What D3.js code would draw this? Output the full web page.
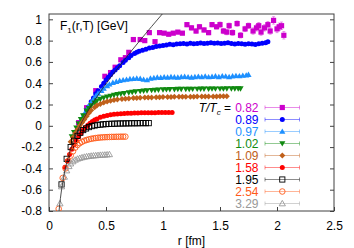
<!DOCTYPE html>
<html><head><meta charset="utf-8">
<script src="https://cdn.jsdelivr.net/npm/d3@7"></script>
<style>body{margin:0;background:#fff}svg{display:block}text{font-family:"Liberation Sans",Arial,sans-serif}</style>
</head><body>
<svg id="c" width="354" height="248"></svg>
<script>
// ---------- data ----------
const xTicks = [0, 0.5, 1, 1.5, 2, 2.5];
const yTicks = [1, 0.8, 0.6, 0.4, 0.2, 0, -0.2, -0.4, -0.6, -0.8];
const xTickLabels = ["0", "0.5", "1", "1.5", "2", "2.5"];
const yTickLabels = ["1", "0.8", "0.6", "0.4", "0.2", "0", "-0.2", "-0.4", "-0.6", "-0.8"];
const legendLabels = ["0.82", "0.89", "0.97", "1.02", "1.09", "1.58", "1.95", "2.54", "3.29"];

// T=0 potential curve
const lineR = [0.085, 0.1, 0.12, 0.15, 0.2, 0.27, 0.35, 0.45, 0.6, 0.8, 1.0, 1.05];
const lineF = [-0.834, -0.683, -0.532, -0.371, -0.185, -0.004, 0.154, 0.319, 0.537, 0.804, 1.058, 1.12];

const r082 = [0.26,0.33,0.41,0.49,0.54,0.58,0.63,0.67,0.70,0.74,0.80,0.84,0.88,0.93,0.97,1.01,1.05,1.09,1.13,1.17,1.21,1.25,1.29,1.32,1.36,1.40,1.43,1.47,1.50,1.53,1.56,1.58,1.61,1.65,1.68,1.72,1.75,1.79,1.82,1.84,1.86,1.89,1.92,1.94,1.97,2.00,2.02,2.04,2.06];
const f082 = [0.03,0.17,0.33,0.465,0.50,0.55,0.62,0.64,0.69,0.81,0.81,0.80,0.875,0.79,0.875,0.87,0.86,0.87,0.88,0.87,0.95,0.92,0.89,0.93,0.90,0.875,0.95,0.93,0.95,0.89,0.88,0.94,0.875,0.96,0.85,0.91,0.94,0.89,0.92,0.94,0.88,0.92,0.95,0.89,0.99,0.91,0.93,0.94,0.85];
const e082 = [0.01,0.01,0.01,0.01,0.01,0.01,0.01,0.01,0.01,0.012,0.012,0.012,0.015,0.015,0.015,0.015,0.015,0.015,0.015,0.015,0.02,0.02,0.02,0.02,0.02,0.02,0.02,0.02,0.025,0.025,0.025,0.025,0.025,0.025,0.025,0.025,0.025,0.03,0.03,0.03,0.03,0.03,0.03,0.03,0.035,0.035,0.035,0.035,0.035];

const r089 = [0.25,0.27,0.29,0.31,0.33,0.35,0.37,0.39,0.41,0.43,0.46,0.48,0.50,0.52,0.54,0.56,0.58,0.60,0.62,0.65,0.67,0.70,0.72,0.75,0.77,0.79,0.82,0.85,0.88,0.91,0.94,0.97,1.00,1.03,1.06,1.09,1.12,1.15,1.18,1.21,1.24,1.27,1.30,1.33,1.36,1.39,1.42,1.45,1.48,1.51,1.54,1.57,1.60,1.63,1.66,1.69,1.72,1.75,1.78,1.81,1.84,1.87,1.90,1.92];
const f089 = [-0.02,0.02,0.06,0.10,0.145,0.18,0.225,0.26,0.30,0.33,0.37,0.40,0.43,0.455,0.48,0.505,0.525,0.545,0.565,0.595,0.615,0.64,0.66,0.68,0.69,0.70,0.71,0.72,0.73,0.735,0.745,0.75,0.755,0.76,0.765,0.762,0.768,0.77,0.772,0.768,0.775,0.77,0.774,0.778,0.772,0.776,0.78,0.775,0.778,0.772,0.776,0.779,0.772,0.768,0.774,0.77,0.765,0.77,0.768,0.764,0.77,0.775,0.78,0.79];

const r097 = [0.22,0.24,0.26,0.28,0.30,0.32,0.345,0.37,0.39,0.41,0.43,0.46,0.48,0.51,0.53,0.56,0.59,0.62,0.65,0.68,0.71,0.74,0.77,0.80,0.83,0.86,0.89,0.92,0.95,0.98,1.01,1.04,1.07,1.10,1.13,1.16,1.19,1.22,1.25,1.28,1.31,1.34,1.37,1.40,1.43,1.46,1.49,1.52,1.55,1.58,1.61,1.64,1.67,1.70,1.73,1.75];
const f097 = [-0.08,-0.04,0.0,0.04,0.09,0.13,0.18,0.22,0.25,0.28,0.305,0.33,0.35,0.375,0.39,0.405,0.415,0.425,0.43,0.435,0.44,0.442,0.445,0.443,0.435,0.43,0.445,0.45,0.455,0.452,0.458,0.455,0.46,0.457,0.455,0.46,0.462,0.458,0.455,0.46,0.463,0.46,0.465,0.458,0.462,0.466,0.46,0.468,0.465,0.46,0.467,0.47,0.468,0.472,0.475,0.48];

const r102 = [0.20,0.22,0.24,0.26,0.28,0.30,0.33,0.35,0.37,0.40,0.42,0.45,0.48,0.51,0.54,0.57,0.60,0.63,0.66,0.70,0.73,0.76,0.80,0.83,0.86,0.90,0.93,0.96,1.00,1.03,1.06,1.10,1.13,1.16,1.20,1.23,1.26,1.30,1.33,1.36,1.40,1.43,1.46,1.50,1.53,1.56,1.60,1.63,1.66,1.68];
const f102 = [-0.10,-0.06,-0.02,0.02,0.06,0.095,0.14,0.165,0.19,0.215,0.235,0.25,0.262,0.272,0.28,0.288,0.295,0.30,0.305,0.312,0.317,0.321,0.325,0.328,0.331,0.334,0.336,0.338,0.34,0.341,0.342,0.343,0.344,0.344,0.345,0.345,0.346,0.346,0.347,0.347,0.347,0.348,0.348,0.348,0.348,0.349,0.349,0.349,0.35,0.35];

const r109 = [0.19,0.21,0.23,0.25,0.27,0.29,0.31,0.33,0.35,0.37,0.40,0.42,0.45,0.48,0.51,0.54,0.57,0.60,0.64,0.67,0.70,0.74,0.77,0.80,0.84,0.87,0.90,0.94,0.97,1.00,1.04,1.07,1.10,1.14,1.17,1.20,1.24,1.27,1.30,1.34,1.37,1.40,1.44,1.47,1.50,1.53,1.56];
const f109 = [-0.15,-0.11,-0.07,-0.035,0.0,0.03,0.06,0.09,0.12,0.145,0.175,0.19,0.205,0.218,0.228,0.236,0.242,0.247,0.252,0.255,0.257,0.26,0.262,0.263,0.265,0.266,0.267,0.268,0.269,0.27,0.27,0.271,0.272,0.272,0.273,0.273,0.274,0.274,0.275,0.275,0.275,0.276,0.276,0.276,0.277,0.277,0.278];

const r158 = [0.14,0.16,0.18,0.20,0.22,0.24,0.26,0.28,0.30,0.32,0.34,0.36,0.38,0.40,0.42,0.45,0.48,0.51,0.54,0.57,0.60,0.63,0.66,0.69,0.72,0.75,0.78,0.81,0.84,0.87,0.90,0.93,0.96,0.99,1.02,1.05,1.08];
const f158 = [-0.39,-0.33,-0.27,-0.22,-0.18,-0.14,-0.10,-0.07,-0.04,-0.015,0.005,0.025,0.04,0.055,0.065,0.08,0.09,0.098,0.104,0.108,0.111,0.114,0.116,0.118,0.119,0.12,0.121,0.122,0.122,0.123,0.123,0.123,0.124,0.124,0.124,0.125,0.125];

const r195 = [0.11,0.155,0.19,0.22,0.25,0.275,0.30,0.325,0.35,0.375,0.40,0.425,0.45,0.475,0.50,0.525,0.55,0.575,0.60,0.625,0.65,0.675,0.70,0.725,0.75,0.775,0.80,0.825,0.85,0.875];
const f195 = [-0.55,-0.31,-0.20,-0.14,-0.095,-0.065,-0.04,-0.025,-0.012,-0.003,0.003,0.008,0.011,0.014,0.016,0.018,0.019,0.02,0.021,0.022,0.022,0.023,0.023,0.024,0.024,0.024,0.025,0.025,0.025,0.025];

const r254 = [0.085,0.12,0.145,0.17,0.19,0.21,0.23,0.25,0.27,0.29,0.31,0.33,0.35,0.37,0.39,0.41,0.43,0.45,0.47,0.49,0.51,0.53,0.55,0.57,0.59,0.61,0.63,0.65,0.67];
const f254 = [-0.78,-0.49,-0.40,-0.33,-0.28,-0.24,-0.205,-0.18,-0.163,-0.15,-0.14,-0.133,-0.127,-0.122,-0.118,-0.115,-0.112,-0.11,-0.108,-0.107,-0.106,-0.105,-0.104,-0.104,-0.103,-0.103,-0.102,-0.102,-0.102];

const r329 = [0.096,0.11,0.135,0.155,0.175,0.19,0.21,0.23,0.25,0.27,0.29,0.31,0.33,0.35,0.37,0.39,0.41,0.43,0.45,0.47,0.49,0.51,0.53];
const f329 = [-0.73,-0.57,-0.48,-0.42,-0.38,-0.355,-0.335,-0.32,-0.31,-0.303,-0.297,-0.292,-0.288,-0.285,-0.282,-0.28,-0.278,-0.276,-0.274,-0.273,-0.272,-0.27,-0.268];

// ---------- styles ----------
const colors = ["#cc00cc", "#0000ff", "#1e90ff", "#108a10", "#c0601a", "#ff0000", "#000000", "#ff5a1a", "#999999"];
const shapes = ["square", "circle", "triUp", "triDown", "diamond", "circle", "square", "circle", "triUp"];
const filled = [true, true, true, true, true, true, false, false, false];
const seriesR = [r082, r089, r097, r102, r109, r158, r195, r254, r329];
const seriesF = [f082, f089, f097, f102, f109, f158, f195, f254, f329];

const W = 354, H = 248;
const m = {l: 49, r: 334, t: 14, b: 211};
const x = d3.scaleLinear().domain([0, 2.5]).range([m.l, m.r]);
const y = d3.scaleLinear().domain([-0.8, 1.05]).range([m.b, m.t]);
const svg = d3.select("#c");
const frameCol = "#404040";

svg.append("defs").append("clipPath").attr("id", "clip")
  .append("rect").attr("x", m.l).attr("y", m.t).attr("width", m.r - m.l).attr("height", m.b - m.t);

function marker(g, shape, cx, cy, col, fill) {
  let el;
  const s = 2.6;
  if (shape === "square") {
    el = g.append("rect").attr("x", cx - s).attr("y", cy - s).attr("width", 2 * s).attr("height", 2 * s);
  } else if (shape === "circle") {
    el = g.append("circle").attr("cx", cx).attr("cy", cy).attr("r", fill ? 2.5 : 2.8);
  } else if (shape === "triUp") {
    const a = 3.1;
    el = g.append("path").attr("d", `M${cx},${cy - a}L${cx + a},${cy + a * 0.75}L${cx - a},${cy + a * 0.75}Z`);
  } else if (shape === "triDown") {
    const a = 3.1;
    el = g.append("path").attr("d", `M${cx},${cy + a}L${cx + a},${cy - a * 0.75}L${cx - a},${cy - a * 0.75}Z`);
  } else {
    const a = 3.0;
    el = g.append("path").attr("d", `M${cx},${cy - a}L${cx + a},${cy}L${cx},${cy + a}L${cx - a},${cy}Z`);
  }
  if (fill) el.attr("fill", col).attr("stroke", "none");
  else el.attr("fill", "none").attr("stroke", col).attr("stroke-width", 0.9);
}

// axes
const gx = svg.append("g").attr("transform", `translate(0,${m.b})`)
  .call(d3.axisBottom(x).tickValues(xTicks).tickFormat((d, i) => xTickLabels[i]).tickSize(-4).tickPadding(10));
const gy = svg.append("g").attr("transform", `translate(${m.l},0)`)
  .call(d3.axisLeft(y).tickValues(yTicks).tickFormat((d, i) => yTickLabels[i]).tickSize(-4).tickPadding(7));
const gy2 = svg.append("g").attr("transform", `translate(${m.r},0)`)
  .call(d3.axisRight(y).tickValues(yTicks).tickFormat("").tickSize(-4));
[gx, gy, gy2].forEach(g => {
  g.select(".domain").remove();
  g.selectAll(".tick line").attr("stroke", frameCol);
  g.selectAll("text").attr("font-size", 12).attr("fill", "#000").attr("font-family", "Liberation Sans, Arial, sans-serif");
});
svg.append("rect").attr("x", m.l).attr("y", m.t).attr("width", m.r - m.l).attr("height", m.b - m.t)
  .attr("fill", "none").attr("stroke", frameCol).attr("stroke-width", 1);

// data
const plot = svg.append("g").attr("clip-path", "url(#clip)");
// error bars for 0.82
const eb = plot.append("g").attr("stroke", colors[0]).attr("stroke-opacity", 0.5).attr("stroke-width", 0.8);
r082.forEach((r, i) => {
  const cx = x(r), y1 = y(f082[i] + e082[i]), y2 = y(f082[i] - e082[i]);
  eb.append("line").attr("x1", cx).attr("x2", cx).attr("y1", y1).attr("y2", y2);
  eb.append("line").attr("x1", cx - 1.5).attr("x2", cx + 1.5).attr("y1", y1).attr("y2", y1);
  eb.append("line").attr("x1", cx - 1.5).attr("x2", cx + 1.5).attr("y1", y2).attr("y2", y2);
});
for (let s = 0; s < seriesR.length; s++) {
  const g = plot.append("g");
  seriesR[s].forEach((r, i) => marker(g, shapes[s], x(r), y(seriesF[s][i]), colors[s], filled[s]));
}
// T=0 curve
const lineData = lineR.map((r, i) => [r, lineF[i]]);
plot.append("path").datum(lineData)
  .attr("d", d3.line().x(d => x(d[0])).y(d => y(d[1])).curve(d3.curveMonotoneX))
  .attr("fill", "none").attr("stroke", "#222").attr("stroke-width", 0.8);

// title inside
const t = svg.append("text").attr("x", 60).attr("y", 30).attr("font-size", 12).attr("fill", "#000");
t.append("tspan").text("F");
t.append("tspan").attr("font-size", 8).attr("dy", 3).text("1");
t.append("tspan").attr("dy", -3).text("(r,T) [GeV]");

// x label
svg.append("text").attr("x", (m.l + m.r) / 2).attr("y", 245).attr("text-anchor", "middle")
  .attr("font-size", 12).attr("fill", "#000").text("r [fm]");

// legend
const lg = svg.append("g");
const lt = lg.append("text").attr("x", 231).attr("y", 111.8).attr("text-anchor", "end").attr("font-size", 12).attr("fill", "#000");
lt.append("tspan").attr("font-style", "italic").text("T/T");
lt.append("tspan").attr("font-style", "italic").attr("font-size", 8).attr("dy", 3).text("c");
lt.append("tspan").attr("dy", -3).text(" =");
legendLabels.forEach((lab, i) => {
  const cy = 107.5 + i * 12;
  lg.append("text").attr("x", 258.5).attr("y", cy + 4.3).attr("text-anchor", "end")
    .attr("font-size", 12).attr("fill", colors[i]).text(lab);
  const sg = lg.append("g").attr("stroke", colors[i]).attr("stroke-opacity", 0.5).attr("stroke-width", 0.9);
  sg.append("line").attr("x1", 265).attr("x2", 299.5).attr("y1", cy).attr("y2", cy);
  sg.append("line").attr("x1", 265).attr("x2", 265).attr("y1", cy - 2).attr("y2", cy + 2);
  sg.append("line").attr("x1", 299.5).attr("x2", 299.5).attr("y1", cy - 2).attr("y2", cy + 2);
  marker(lg, shapes[i], 282.3, cy, colors[i], filled[i]);
});
</script>
</body></html>
